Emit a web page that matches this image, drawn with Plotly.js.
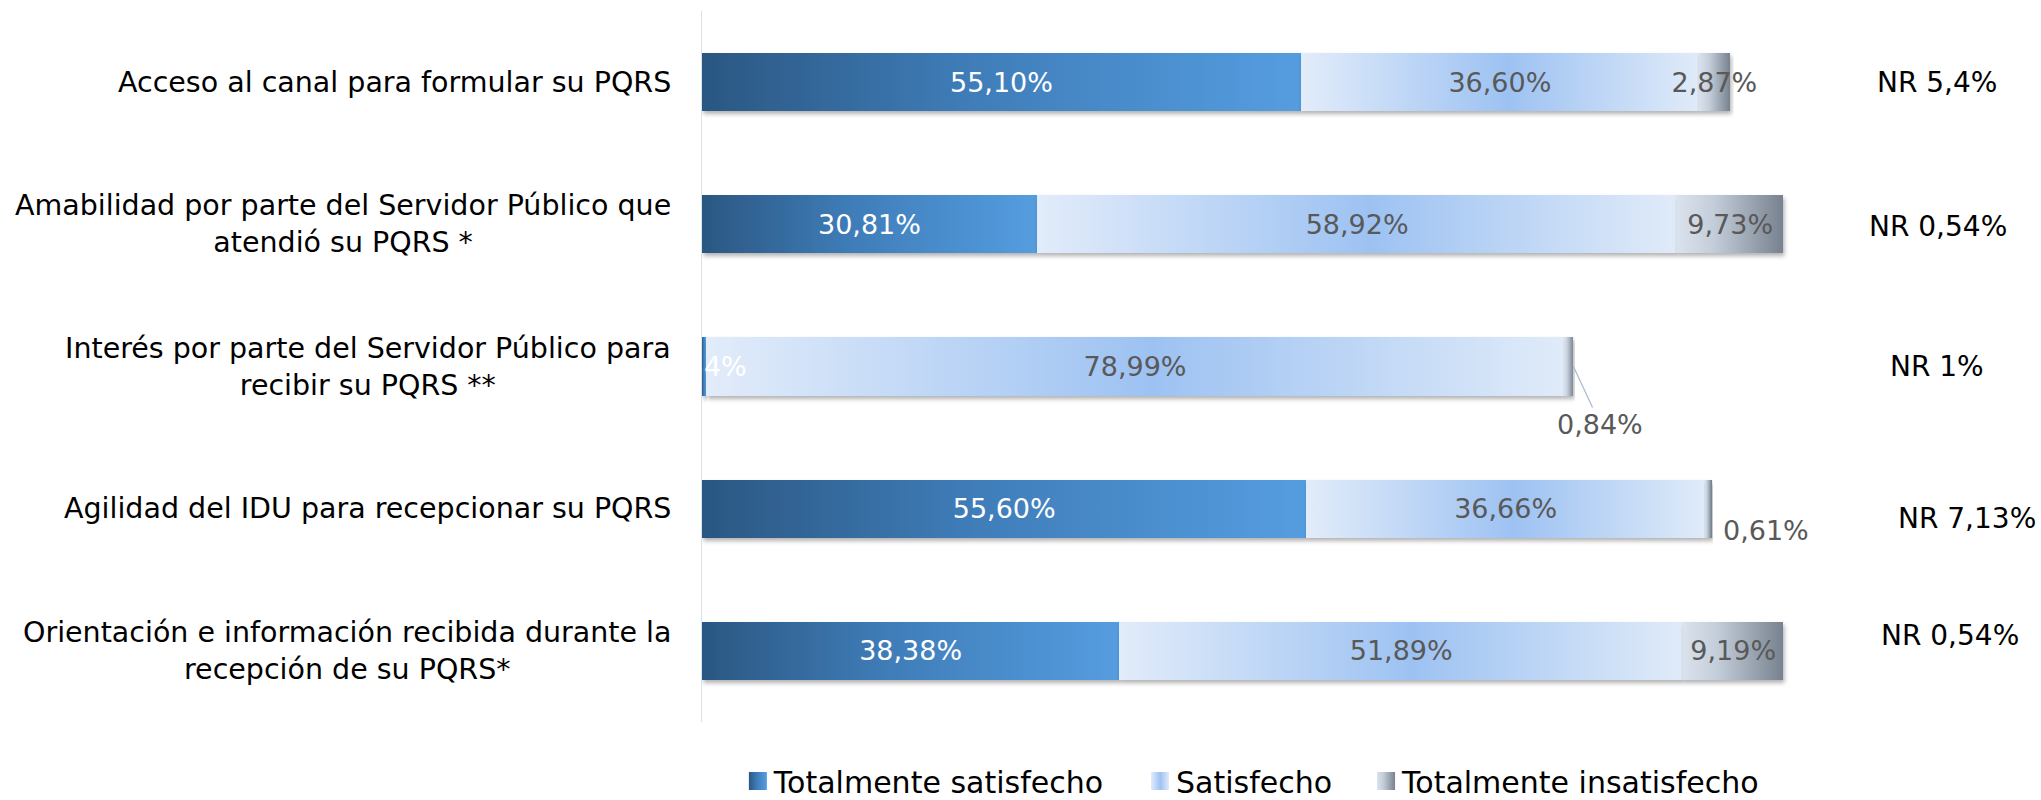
<!DOCTYPE html>
<html>
<head>
<meta charset="utf-8">
<script src="https://cdn.plot.ly/plotly-3.0.1.min.js"></script>
<style>
  html, body { margin: 0; padding: 0; background: #ffffff; }
  #chart { width: 2041px; height: 800px; }
</style>
</head>
<body>
<div id="chart"></div>
<script>
// ---------------- data ----------------
const categories = [
  'Acceso al canal para formular su PQRS',
  'Amabilidad por parte del Servidor Público que atendió su PQRS *',
  'Interés por parte del Servidor Público para recibir su PQRS **',
  'Agilidad del IDU para recepcionar su PQRS',
  'Orientación e información recibida durante la recepción de su PQRS*'
];
const categoryLabels = [
  'Acceso al canal para formular su PQRS',
  'Amabilidad por parte del Servidor Público que<br>atendió su PQRS *',
  'Interés por parte del Servidor Público para<br>recibir su PQRS **',
  'Agilidad del IDU para recepcionar su PQRS',
  'Orientación e información recibida durante la<br>recepción de su PQRS*'
];
const seriesNames = ['Totalmente satisfecho', 'Satisfecho', 'Totalmente insatisfecho'];
const totalmenteSatisfecho   = [55.10, 30.81, 0.34, 55.60, 38.38];
const satisfecho             = [36.60, 58.92, 78.99, 36.66, 51.89];
const totalmenteInsatisfecho = [2.87, 9.73, 0.84, 0.61, 9.19];
const noResponde             = [5.4, 0.54, 1, 7.13, 0.54];

// ---------------- helpers ----------------
const pct = v => v.toFixed(2).replace('.', ',') + '%';
const nrText = v => 'NR ' + String(v).replace('.', ',') + '%';
const FONT = 'DejaVu Sans, Verdana, sans-serif';
const GREY = '#595959';

// rows whose "Totalmente insatisfecho" label sits outside the bar
const outsideRows = [2, 3];

const series = [totalmenteSatisfecho, satisfecho, totalmenteInsatisfecho];
const textColors = ['#ffffff', GREY, GREY];

const traces = series.map((vals, s) => ({
  type: 'bar',
  orientation: 'h',
  name: seriesNames[s],
  y: categories,
  x: vals,
  text: vals.map((v, i) => (s === 2 && outsideRows.includes(i)) ? '' : pct(v)),
  textposition: 'inside',
  insidetextanchor: 'middle',
  constraintext: 'none',
  textangle: 0,
  cliponaxis: true,
  textfont: { family: FONT, size: 27, color: textColors[s] },
  insidetextfont: { family: FONT, size: 27, color: textColors[s] },
  marker: { color: ['#4A88C6', '#B9D3F5', '#A9B3C0'][s], line: { width: 0 } },
  hoverinfo: 'skip'
}));

const totals = categories.map((c, i) => series.reduce((a, arr) => a + arr[i], 0));

// ---------------- annotations ----------------
const annotations = [];
categories.forEach((c, i) => {
  annotations.push({
    xref: 'paper', x: 0, xanchor: 'right', xshift: -29,
    yref: 'y', y: c, yanchor: 'middle',
    text: categoryLabels[i], showarrow: false, align: 'center',
    font: { family: FONT, size: 28.5, color: '#000000' }
  });
});
const nrPos = [1937, 1938, 1937, 1967, 1950];
const nrShift = [0, -2, 0, -10, 15];
categories.forEach((c, i) => {
  annotations.push({
    xref: 'paper', x: (nrPos[i] - 702) / 1087, xanchor: 'center',
    yref: 'y', y: c, yanchor: 'middle', yshift: nrShift[i],
    text: nrText(noResponde[i]), showarrow: false,
    font: { family: FONT, size: 28, color: '#000000' }
  });
});
annotations.push({
  xref: 'x', x: totals[2], yref: 'y', y: categories[2],
  text: pct(totalmenteInsatisfecho[2]), showarrow: true,
  arrowhead: 0, arrowwidth: 1.2, arrowcolor: '#A9B8CC',
  ax: 27, ay: 58,
  font: { family: FONT, size: 27, color: GREY }
});
annotations.push({
  xref: 'x', x: totals[3], xanchor: 'left', xshift: 9,
  yref: 'y', y: categories[3], yanchor: 'middle', yshift: -22,
  text: pct(totalmenteInsatisfecho[3]), showarrow: false,
  font: { family: FONT, size: 27, color: GREY }
});

const layout = {
  width: 2041, height: 800,
  paper_bgcolor: '#ffffff', plot_bgcolor: '#ffffff',
  margin: { l: 702, r: 252, t: 11, b: 78, autoexpand: false },
  barmode: 'stack',
  bargap: 0.592,
  font: { family: FONT, size: 28, color: '#000000' },
  xaxis: { range: [0, 100], visible: false, fixedrange: true },
  yaxis: {
    type: 'category', autorange: 'reversed',
    showline: true, linecolor: '#DCE0E8', linewidth: 1.5,
    showticklabels: false, ticks: '', showgrid: false, zeroline: false, fixedrange: true
  },
  showlegend: true,
  legend: {
    orientation: 'h', x: 0.033, xanchor: 'left', y: -0.083, yanchor: 'middle',
    font: { family: FONT, size: 30, color: '#000000' },
    traceorder: 'normal', bgcolor: 'rgba(0,0,0,0)'
  },
  annotations: annotations
};

function decorate(gd) {
  const NS = 'http://www.w3.org/2000/svg';
  const svg = gd.querySelector('svg.main-svg');
  let defs = svg.querySelector('defs');
  if (!defs) { defs = document.createElementNS(NS, 'defs'); svg.insertBefore(defs, svg.firstChild); }
  const grads = [
    [[0, '#2B5782'], [0.45, '#3F7DB9'], [1, '#559DE0']],
    [[0, '#E2ECFA'], [0.52, '#9DC2F2'], [1, '#E0EBF9']],
    [[0, '#DAE2EC'], [0.35, '#C3CDD9'], [1, '#78828F']]
  ];
  grads.forEach((stops, i) => {
    const lg = document.createElementNS(NS, 'linearGradient');
    lg.setAttribute('id', 'barGrad' + i);
    lg.setAttribute('x1', '0'); lg.setAttribute('y1', '0');
    lg.setAttribute('x2', '1'); lg.setAttribute('y2', '0');
    stops.forEach(([o, c]) => {
      const st = document.createElementNS(NS, 'stop');
      st.setAttribute('offset', o); st.setAttribute('stop-color', c);
      lg.appendChild(st);
    });
    defs.appendChild(lg);
  });
  const filt = document.createElementNS(NS, 'filter');
  filt.setAttribute('id', 'barShadow');
  filt.setAttribute('x', '-0.05'); filt.setAttribute('y', '-0.2');
  filt.setAttribute('width', '1.15'); filt.setAttribute('height', '1.5');
  const ds = document.createElementNS(NS, 'feDropShadow');
  ds.setAttribute('dx', '1.5'); ds.setAttribute('dy', '3');
  ds.setAttribute('stdDeviation', '2');
  ds.setAttribute('flood-color', '#000000'); ds.setAttribute('flood-opacity', '0.3');
  filt.appendChild(ds);
  defs.appendChild(filt);

  const barlayer = gd.querySelector('.barlayer');
  gd.querySelectorAll('.barlayer .trace.bars').forEach((tr, i) => {
    tr.querySelectorAll('g.point path').forEach(p => {
      p.style.fill = 'url(#barGrad' + i + ')';
      p.setAttribute('filter', 'url(#barShadow)');
    });
  });
  // bring all bar labels above every bar segment
  if (barlayer) {
    const textLayer = document.createElementNS(NS, 'g');
    textLayer.setAttribute('class', 'bartext-top');
    gd.querySelectorAll('.barlayer .trace.bars text.bartext').forEach(t => textLayer.appendChild(t));
    barlayer.appendChild(textLayer);
  }
  // legend symbols + spacing like the reference
  const extra = [0, 27, 52];
  gd.querySelectorAll('.legend .traces').forEach((t, i) => {
    const p = t.querySelector('path.legendbar') || t.querySelector('.legendpoints path');
    if (p) {
      p.setAttribute('d', 'M9,9H-9V-9H9Z');
      p.style.fill = 'url(#barGrad' + i + ')';
      p.style.stroke = 'none';
    }
    const txt = t.querySelector('text.legendtext');
    if (txt) {
      const x0 = parseFloat(txt.getAttribute('x') || '40');
      txt.setAttribute('x', x0 - 4);
    }
    const tf = t.getAttribute('transform') || '';
    const m = tf.match(/translate\(\s*([-\d.]+)[ ,]+([-\d.]+)\s*\)/);
    if (m) t.setAttribute('transform', 'translate(' + (parseFloat(m[1]) + (extra[i] || 0)) + ',' + m[2] + ')');
  });
  const sb = gd.querySelector('.legend .scrollbox');
  if (sb) sb.removeAttribute('clip-path');
}

Plotly.newPlot('chart', traces, layout, { staticPlot: true, displayModeBar: false })
  .then(gd => decorate(gd));
</script>
</body>
</html>
